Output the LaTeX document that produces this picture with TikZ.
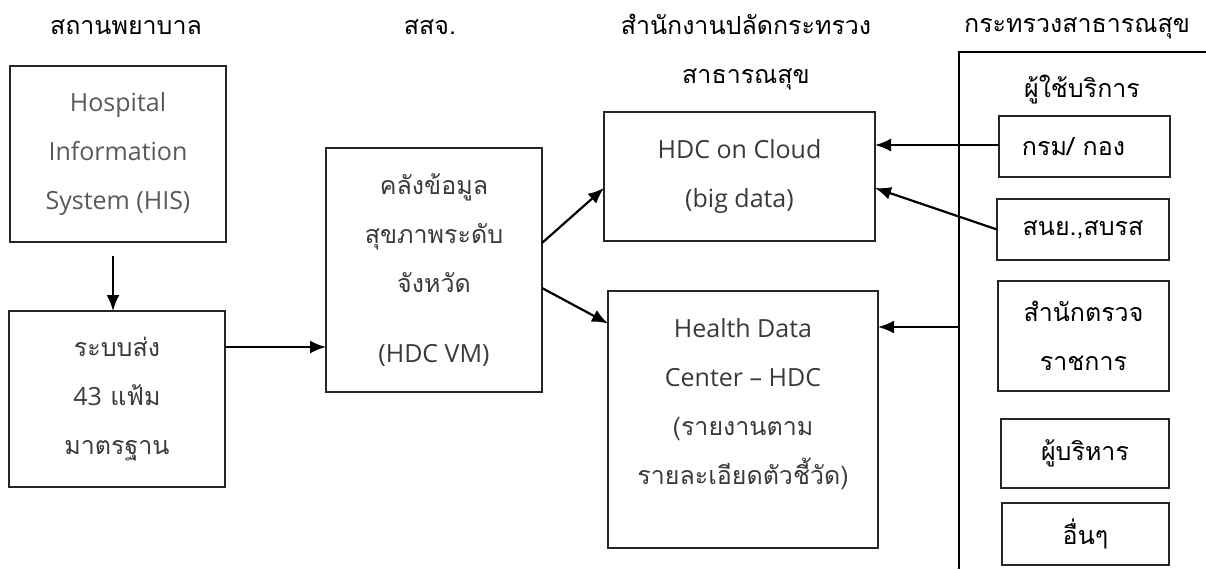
\documentclass[tikz,border=0pt]{standalone}
\usepackage{fontspec}
\setmainfont[Script=Thai]{Loma}
\newfontfamily\latin{Open Sans}
\usepackage{xcolor}
\usepackage{tikz}
\usetikzlibrary{arrows.meta}
\definecolor{lightink}{HTML}{595959}
\definecolor{darkink}{HTML}{3A3A3A}
\tikzset{>={Latex[length=8pt,width=6.5pt]}}
\tikzstyle{box} = [draw=black!85, line width=0.6pt, inner sep=0, outer sep=0, align=center, font=\fontsize{12.5}{24.5}\selectfont]
\tikzstyle{head} = [inner sep=0, align=center, font=\fontsize{12.5}{24.5}\selectfont]
\tikzstyle{link} = [->, line width=1.1pt]

\begin{document}
\begin{tikzpicture}[x=0.5pt, y=-0.5pt]
\useasboundingbox (0,0) rectangle (1206,569);
% column heads
\node [head] (H1) at (126, 27) {สถานพยาบาล};
\node [head] (H2) at (430, 27) {สสจ.};
\node [head] (H3) at (746, 52) {สำนักงานปลัดกระทรวง\\สาธารณสุข};
\node [head] (H4) at (1077, 28) {กระทรวงสาธารณสุข};
% frame of the ministry
\coordinate (F1) at (959, 569);
\coordinate (F2) at (959, 52);
\coordinate (F3) at (1206, 52);
\coordinate (FU) at (959, 327);
\draw [line width=0.6pt] (F1) -- (F2) -- (F3);
\node [head] (USR) at (1082, 90) {ผู้ใช้บริการ};
% boxes
\node [box, text=lightink, minimum width=108pt, minimum height=88pt] (HIS) at (118, 154) {\latin Hospital\\\latin Information\\\latin System (HIS)};
\node [box, text=darkink, minimum width=108pt, minimum height=88pt] (SEND) at (117, 399) {ระบบส่ง\\{\latin 43} แฟ้ม\\มาตรฐาน};
\node [box, text=darkink, minimum width=108pt, minimum height=122pt] (DW) at (434, 270) {คลังข้อมูล\\สุขภาพระดับ\\จังหวัด\\[10.5pt]\latin (HDC VM)};
\node [box, text=darkink, minimum width=135.5pt, minimum height=64.5pt] (CLOUD) at (739.5, 176.5) {\latin HDC on Cloud\\\latin (big data)};
\node [box, text=darkink, minimum width=135pt, minimum height=128.5pt] (HDC) at (743, 419.5) {\latin Health Data\\\latin Center – HDC\\(รายงานตาม\\รายละเอียดตัวชี้วัด)\\[-6.5pt]\mbox{}};
\node [box, minimum width=85.5pt, minimum height=30.5pt] (DEPT) at (1084.5, 146.5) {กรม/ กอง\hspace{11pt}};
\node [box, minimum width=86pt, minimum height=30.5pt] (NSY) at (1083, 229.5) {สนย.,สบรส};
\node [box, minimum width=85.5pt, minimum height=55pt] (INSP) at (1083.5, 336) {สำนักตรวจ\\ราชการ};
\node [box, minimum width=84pt, minimum height=34.5pt] (EXEC) at (1085, 453.5) {ผู้บริหาร};
\node [box, minimum width=83.5pt, minimum height=31pt] (OTH) at (1085.5, 534) {อื่นๆ};
% links
\draw [link] ([xshift=-2.5pt, yshift=-7pt]HIS.south) to ([xshift=-2pt]SEND.north);
\draw [link] ([yshift=26pt]SEND.east) to ([yshift=-38.5pt]DW.west);
\draw [link] ([yshift=13.5pt]DW.east) to ([yshift=-5.75pt]CLOUD.west);
\draw [link] ([yshift=-9pt]DW.east) to ([yshift=48pt]HDC.west);
\draw [link] ([yshift=0.75pt]DEPT.west) to ([yshift=15.75pt]CLOUD.east);
\draw [link] (NSY.west) to ([yshift=-5.75pt]CLOUD.east);
\draw [link] (FU) to ([yshift=46.25pt]HDC.east);
\end{tikzpicture}
\end{document}
